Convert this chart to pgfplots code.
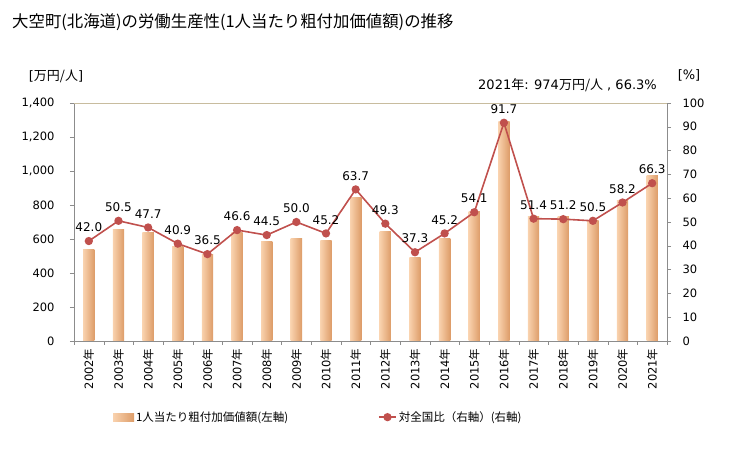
\documentclass[border=0pt]{standalone}
\usepackage{pgfplots}
\usepackage{pgfplotstable}
\pgfplotsset{compat=1.18}
\usepackage{fontspec}
\setmainfont{DejaVu Sans}
\newfontfamily\cjk{Noto Sans CJK JP}
\definecolor{linered}{HTML}{C0504D}
\definecolor{barL}{HTML}{F9D2AE}
\definecolor{barM}{HTML}{FFE6CC}
\definecolor{barR}{HTML}{DD9C68}
\definecolor{axgray}{HTML}{8C8C8C}
\definecolor{toptan}{HTML}{C8BC9E}
\newcommand{\nen}{{\cjk 年}}
\pgfplotstableread{
x y
0 539
1 657
2 637
3 555
4 506
5 637
6 588
7 604
8 592
9 845
10 643
11 490
12 604
13 763
14 1290
15 735
16 735
17 708
18 829
19 974
}\bardata
\begin{document}
\begin{tikzpicture}[x=1pt,y=1pt]
\path[use as bounding box] (0,0) rectangle (729,450);
\node[anchor=west,inner sep=0] at (12,428) {\cjk\fontsize{16.4}{18}\selectfont 大空町(北海道)の労働生産性(1人当たり粗付加価値額)の推移};
\node[inner sep=0] at (56,374) {\fontsize{13}{15}\selectfont [{\cjk 万円/人}]};
\node[inner sep=0] at (689,375) {\fontsize{13}{15}\selectfont [\%]};
\node[anchor=east, inner sep=0, font=\fontsize{13}{15}\selectfont] at (657,365) {2021{\cjk 年}: 974{\cjk 万円/人} , 66.3\%};
\begin{axis}[
  at={(74pt,109pt)}, anchor=south west, scale only axis,
  width=593pt, height=238pt,
  xmin=-0.5, xmax=19.5, ymin=0, ymax=1400,
  axis y line*=left, axis x line*=bottom,
  axis line style={draw=axgray, line width=0.8pt},
  every outer x axis line/.append style={-},
  every outer y axis line/.append style={-},
  ytick={0,200,...,1400},
  xtick={0,...,19},
  xticklabels={2002\nen,2003\nen,2004\nen,2005\nen,2006\nen,2007\nen,2008\nen,2009\nen,2010\nen,2011\nen,2012\nen,2013\nen,2014\nen,2015\nen,2016\nen,2017\nen,2018\nen,2019\nen,2020\nen,2021\nen},
  xticklabel style={rotate=90, anchor=east, font=\fontsize{11.5}{13}\selectfont},
  yticklabel style={font=\fontsize{11.5}{13}\selectfont, xshift=-12pt},
  major x tick style={draw=none},
  minor xtick={-0.5,0.5,...,19.5},
  minor x tick style={draw=axgray},
  minor tick length=4pt,
  major tick length=4pt,
  tick align=outside,
  y tick style={draw=axgray},
  /pgf/number format/.cd, 1000 sep={,}, assume math mode=true,
]
\pgfplotsinvokeforeach{0,...,19}{
\addplot[ybar, bar width=0.38, bar shift=0pt, draw=none, left color=barL, middle color=barM, right color=barR,
  restrict x to domain=#1:#1] table[x=x,y=y] {\bardata};
}
\draw[toptan, line width=0.8pt] (rel axis cs:0,1) -- (rel axis cs:1,1);
\end{axis}
\begin{axis}[
  at={(74pt,109pt)}, anchor=south west, scale only axis,
  width=593pt, height=238pt,
  xmin=-0.5, xmax=19.5, ymin=0, ymax=100,
  axis y line*=right, axis x line=none,
  axis line style={draw=axgray, line width=0.8pt},
  every outer y axis line/.append style={-},
  ytick={0,10,...,100},
  yticklabel style={font=\fontsize{11.5}{13}\selectfont, xshift=8pt},
  y tick style={draw=axgray},
  major tick length=4pt,
  tick align=outside,
  /pgf/number format/.cd, assume math mode=true,
  /pgfplots/.cd,
  legend style={at={(0.412,-0.32)}, anchor=center, draw=none, fill=none,
    legend columns=2, font=\cjk\fontsize{11.5}{13}\selectfont,
    /tikz/every even column/.append style={column sep=88pt}},
]
\addlegendimage{draw=none, legend image code/.code={\path[draw=none, left color=barL, middle color=barM, right color=barR] (0pt,-4pt) rectangle (21pt,4pt);}}
\addlegendentry{1人当たり粗付加価値額(左軸)}
\addplot[color=linered, line width=1.6pt, mark=*, mark size=3.3pt,
  mark options={fill=linered, draw=linered},
  nodes near coords, every node near coord/.append style={font=\fontsize{12}{14}\selectfont, text=black, yshift=5pt},
  /pgf/number format/.cd, fixed, fixed zerofill, precision=1,
  ] coordinates {
(0,42.0) (1,50.5) (2,47.7) (3,40.9) (4,36.5) (5,46.6) (6,44.5) (7,50.0) (8,45.2) (9,63.7)
(10,49.3) (11,37.3) (12,45.2) (13,54.1) (14,91.7) (15,51.4) (16,51.2) (17,50.5) (18,58.2) (19,66.3)};
\addlegendentry{対全国比（右軸）(右軸)}
\end{axis}
\end{tikzpicture}
\end{document}
